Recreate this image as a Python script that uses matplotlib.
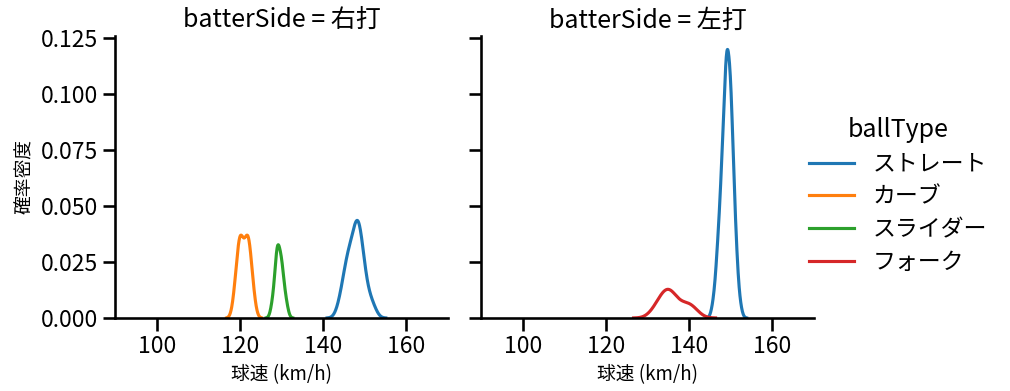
import numpy as np
import matplotlib
matplotlib.use("Agg")
import matplotlib.pyplot as plt

plt.rcParams['font.family'] = ['Noto Sans CJK JP', 'DejaVu Sans']

# ---- data (pitch speeds, km/h) ----
sides = ["右打", "左打"]
ball_types = ["ストレート", "カーブ", "スライダー", "フォーク"]
colors = ["#1f77b4", "#ff7f0e", "#2ca02c", "#d62728"]

right_straight = [144, 145, 145, 146, 146, 146, 146, 147, 147, 147, 148, 148, 148, 148, 148, 148,
                  149, 149, 149, 149, 149, 150, 150, 151, 152]
right_curve = [119, 119, 120, 120, 120, 120, 120, 121, 121, 121,
               122, 122, 122, 122, 122, 123, 123]
right_slider = [128, 129, 129, 129, 129, 130, 130, 130, 131]

left_straight = [146, 147, 147, 147, 147, 148, 148, 148, 148, 148, 148, 148, 148,
                 149, 149, 149, 149, 149, 149, 149, 149, 149, 149, 149, 149, 149, 149,
                 150, 150, 150, 150, 150, 150, 150, 150, 150, 150, 150, 150,
                 151, 151, 151, 151, 151, 152]
left_fork = [132, 133, 134, 135, 135, 135, 136, 137, 139, 140, 141]

data = {
    "右打": {"ストレート": right_straight, "カーブ": right_curve, "スライダー": right_slider},
    "左打": {"ストレート": left_straight, "フォーク": left_fork},
}

total_n = sum(len(v) for d in data.values() for v in d.values())


def kde(values, total, cut=3, gridsize=200):
    v = np.asarray(values, float)
    n = len(v)
    bw = n ** (-1 / 5) * v.std(ddof=1)
    grid = np.linspace(v.min() - cut * bw, v.max() + cut * bw, gridsize)
    dens = np.exp(-0.5 * ((grid[:, None] - v[None, :]) / bw) ** 2).sum(1) / (n * bw * np.sqrt(2 * np.pi))
    return grid, dens * n / total


fig = plt.figure(figsize=(10.1, 3.91), dpi=100)
ax1 = fig.add_axes([115 / 1010, 73 / 391, 333 / 1010, 282 / 391])
ax2 = fig.add_axes([481 / 1010, 73 / 391, 333 / 1010, 282 / 391], sharey=ax1)
axes = [ax1, ax2]

ymax = 0
for ax, side in zip(axes, sides):
    for bt, col in zip(ball_types, colors):
        if bt in data[side]:
            x, y = kde(data[side][bt], total_n)
            ymax = max(ymax, y.max())
            ax.plot(x, y, color=col, lw=2.25)
    ax.set_title(f"batterSide = {side}", fontsize=18)
    ax.set_xlim(90, 170)
    ax.set_xticks([100, 120, 140, 160])
    ax.set_xlabel("球速 (km/h)", fontsize=13.5)
    for s in ["top", "right"]:
        ax.spines[s].set_visible(False)
    for s in ["left", "bottom"]:
        ax.spines[s].set_linewidth(1.875)
    ax.tick_params(axis="both", labelsize=16.5, length=9, width=1.875)

ax1.set_ylim(0, ymax * 1.05)
yt = [0, 0.025, 0.05, 0.075, 0.1, 0.125]
ax1.set_yticks(yt)
ax1.set_yticklabels([f"{t:.3f}" for t in yt])
ax1.set_ylabel("確率密度", fontsize=13.5)
ax2.tick_params(axis="y", labelleft=False)

lines = [plt.Line2D([], [], color=c, lw=2.25) for c in colors]
leg = fig.legend(lines, ball_types, title="ballType", loc="center left",
                 bbox_to_anchor=(788 / 1010, 0.5), frameon=False,
                 fontsize=16.5, title_fontsize=18, labelspacing=0.43)

fig.savefig("out.png", dpi=100)
